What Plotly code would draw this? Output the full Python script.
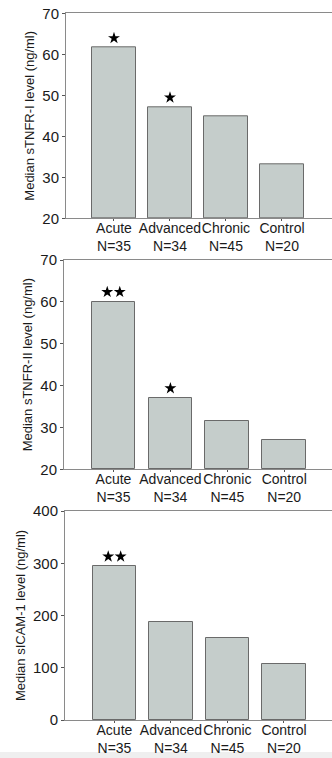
import plotly.graph_objects as go

categories = ["Acute", "Advanced", "Chronic", "Control"]
group_sizes = ["N=35", "N=34", "N=45", "N=20"]

stnfr1 = [61.6, 47.1, 45.0, 33.1]
stnfr2 = [60.0, 37.0, 31.5, 27.0]
sicam1 = [294, 188, 156, 107]

stars1 = [1, 1, 0, 0]
stars2 = [2, 1, 0, 0]
stars3 = [2, 0, 0, 0]

titles = ["Median sTNFR-I level (ng/ml)",
          "Median sTNFR-II level (ng/ml)",
          "Median sICAM-1 level (ng/ml)"]
yranges = [[20, 70], [20, 70], [0, 400]]
ydticks = [10, 10, 100]

W, H = 332, 758
panels = [
    dict(left=66, top=13.3, bottom=218.3, xr=[-0.857, 3.893]),
    dict(left=64, top=260, bottom=469.3, xr=[-0.87, 3.84]),
    dict(left=65, top=511, bottom=720, xr=[-0.875, 3.85]),
]

series = [stnfr1, stnfr2, sicam1]
starsets = [stars1, stars2, stars3]

fig = go.Figure()
ticktext = [f"{c}<br>{n}" for c, n in zip(categories, group_sizes)]
font = "Liberation Sans, Arial, sans-serif"

for i, (vals, st, p) in enumerate(zip(series, starsets, panels)):
    k = "" if i == 0 else str(i + 1)
    xa, ya = "x" + k, "y" + k
    fig.add_trace(go.Bar(
        x=list(range(len(categories))), y=[v - yranges[i][0] for v in vals],
        base=yranges[i][0],
        width=0.77, marker=dict(color="#c5cdcb", line=dict(color="#6a6a6a", width=1)),
        xaxis=xa, yaxis=ya, showlegend=False, hoverinfo="skip"))
    sx, sy = [], []
    off = 0.047 * (yranges[i][1] - yranges[i][0])
    for j, n in enumerate(st):
        if n == 1:
            sx.append(j); sy.append(vals[j] + off)
        elif n == 2:
            sx += [j - 0.11, j + 0.11]; sy += [vals[j] + off] * 2
    if sx:
        fig.add_trace(go.Scatter(
            x=sx, y=sy, mode="markers",
            marker=dict(symbol="star", size=9, color="black"),
            xaxis=xa, yaxis=ya, showlegend=False, hoverinfo="skip"))
    xdom = [p["left"] / W, 1.0]
    ydom = [1 - p["bottom"] / H, 1 - p["top"] / H]
    fig.layout["xaxis" + k] = dict(
        domain=xdom, range=p["xr"], anchor=ya, automargin=False,
        tickvals=list(range(len(categories))), ticktext=ticktext,
        tickangle=0, ticklabelstandoff=-5,
        showline=True, linecolor="#8a8a8a", linewidth=1, mirror=True,
        ticks="outside", ticklen=2, tickcolor="#555",
        showgrid=False, zeroline=False,
        tickfont=dict(family=font, size=14, color="#1a1a1a"))
    fig.layout["yaxis" + k] = dict(
        domain=ydom, range=yranges[i], anchor=xa, automargin=False,
        dtick=ydticks[i], tick0=yranges[i][0],
        showline=True, linecolor="#8a8a8a", linewidth=1,
        ticks="outside", ticklen=3, tickcolor="#555",
        showgrid=False, zeroline=False,
        tickfont=dict(family=font, size=15, color="#1a1a1a"),
        title=dict(text=titles[i], font=dict(family=font, size=13, color="#1a1a1a"), standoff=4))

fig.add_shape(type="rect", xref="paper", yref="paper", x0=0, x1=1,
              y0=0, y1=6 / H, fillcolor="#efefef", line=dict(width=0), layer="below")

fig.update_layout(width=W, height=H, margin=dict(l=0, r=0, t=0, b=0),
                  plot_bgcolor="white", paper_bgcolor="white", bargap=0)

fig.write_html("out.html", config={"displayModeBar": False},
               post_script="document.body.style.margin='0';document.body.style.overflow='hidden';")
